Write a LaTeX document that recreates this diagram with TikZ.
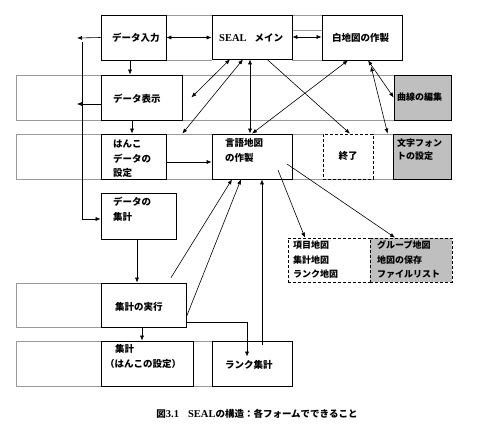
\documentclass[tikz,border=0pt]{standalone}
\usepackage{fontspec}
\newfontfamily\jp{Noto Sans CJK JP}
\newfontfamily\ser{Liberation Serif}
\usetikzlibrary{arrows.meta,calc}
\tikzset{
  box/.style={draw=black,line width=0.7pt,fill=white,inner sep=0pt},
  grbox/.style={box,fill=black!25},
  dbox/.style={box,dash pattern=on 3pt off 2pt},
  band/.style={draw=black!40,line width=0.6pt},
  txt/.style={font=\jp\bfseries\fontsize{9.5}{12}\selectfont,inner sep=0pt,anchor=west},
  stxt/.style={font=\jp\bfseries\fontsize{9}{12}\selectfont,inner sep=0pt,anchor=west},
  conn/.style={line width=0.6pt,-{Latex[length=5pt,width=4pt]}},
  dconn/.style={line width=0.6pt,{Latex[length=5pt,width=4pt]}-{Latex[length=5pt,width=4pt]}}
}
\begin{document}
\begin{tikzpicture}[x=1pt,y=-1pt]
\useasboundingbox[fill=white] (0,0) rectangle (489,430);
% gray bands
\draw[band] (165,15) -- (212,15) (165,60) -- (212,60);
\draw[band] (292,15) -- (322,15) (292,30) -- (322,30) (292,60) -- (322,60);
\draw[band] (16,75) rectangle (394,120);
\draw[band] (16,134) rectangle (393,179);
\draw[band] (16,283) rectangle (101,327);
\draw[band] (16,341) rectangle (212,386);
% boxes
\node[box,minimum width=65,minimum height=45] (din) at (133.5,37.5) {};
\node[box,minimum width=80,minimum height=44] (seal) at (252,37) {};
\node[box,minimum width=80,minimum height=45] (haku) at (362,37.5) {};
\node[box,minimum width=81,minimum height=45] (disp) at (141.5,97.5) {};
\node[grbox,minimum width=57,minimum height=45] (kyoku) at (422.5,97.5) {};
\node[box,minimum width=65,minimum height=45] (hanko) at (133.5,156.5) {};
\node[box,minimum width=80,minimum height=45] (gengo) at (252,156.5) {};
\node[dbox,minimum width=50,minimum height=45] (endb) at (348,156.5) {};
\node[grbox,minimum width=58,minimum height=45] (fontb) at (422,156.5) {};
\node[box,minimum width=75,minimum height=46] (shukei) at (138.5,216) {};
\node[dbox,minimum width=82,minimum height=44] (mapsA) at (329,260) {};
\node[dbox,fill=black!25,minimum width=82,minimum height=44] (mapsB) at (411,260) {};
\node[box,minimum width=85,minimum height=44] (jikko) at (143.5,305) {};
\node[box,minimum width=92,minimum height=45] (hanshu) at (147,363.5) {};
\node[box,minimum width=80,minimum height=45] (rank) at (252,363.5) {};
% texts
\node[txt] (t1) at (112,38) {データ入力};
\node[txt] (t2) at (219,38) {{\ser\bfseries\fontsize{10.5}{12}\selectfont SEAL}\hspace{8pt}メイン};
\node[txt] (t3) at (332,38) {白地図の作製};
\node[txt] (t4) at (113,99) {データ表示};
\node[stxt] (t5) at (397,97) {曲線の編集};
\node[txt] (t6a) at (113,144) {はんこ};
\node[txt] (t6b) at (113,159) {データの};
\node[txt] (t6c) at (113,173) {設定};
\node[txt] (t7a) at (225,143) {言語地図};
\node[txt] (t7b) at (225,158) {の作製};
\node[txt,anchor=center] (t8) at (348,156) {終了};
\node[stxt] (t9a) at (397,143) {文字フォン};
\node[stxt] (t9b) at (397,156) {トの設定};
\node[txt] (t10a) at (113,202) {データの};
\node[txt] (t10b) at (113,217) {集計};
\node[stxt] (t11a) at (293,245) {項目地図};
\node[stxt] (t11b) at (293,260) {集計地図};
\node[stxt] (t11c) at (293,274) {ランク地図};
\node[stxt] (t12a) at (377,245) {グループ地図};
\node[stxt] (t12b) at (377,260) {地図の保存};
\node[stxt] (t12c) at (377,274) {ファイルリスト};
\node[txt] (t13) at (115,307) {集計の実行};
\node[txt] (t14a) at (115,349) {集計};
\node[txt] (t14b) at (105,364) {（はんこの設定）};
\node[txt] (t15) at (225,365) {ランク集計};
\node[txt,anchor=center] (cap) at (257,414) {図{\ser\bfseries\fontsize{10.5}{12}\selectfont 3.1}\hspace{9pt}{\ser\bfseries\fontsize{10.5}{12}\selectfont SEAL}の構造：各フォームでできること};
% free ends
\coordinate (dinL) at (77,38);
\coordinate (dispL) at (77,104);
\coordinate (vtop) at (82,42);
% connectors
\draw[dconn] (din.east) -- (din.east -| seal.west);
\draw[dconn] (seal.east) -- (seal.east -| haku.west);
\draw[conn] (din.west) -- (dinL);
\draw[conn] (vtop) |- ([yshift=-3pt]shukei.west);
\draw[conn] ([yshift=-6.5pt]disp.west) -- (dispL);
\draw[conn] ([xshift=-3.5pt]din.south) -- ([xshift=-3.5pt]din.south |- disp.north);
\draw[conn] ([xshift=-9.5pt]disp.south) -- ([xshift=-9.5pt]disp.south |- hanko.north);
\draw[conn] ([yshift=-5.5pt]hanko.east) -- ([yshift=-5.5pt]hanko.east -| gengo.west);
\draw[dconn] ([xshift=-22pt]seal.south) -- ([xshift=9pt,yshift=0pt]disp.east);
\draw[dconn] ([xshift=-9pt]seal.south) -- ([xshift=16pt]hanko.north east);
\draw[dconn] ([xshift=-2pt]seal.south) -- ([xshift=-2pt]gengo.north);
\draw[dconn] ([xshift=-14pt]haku.south) -- (gengo.north);
\draw[conn] ([xshift=15pt]seal.south) -- ([xshift=2pt]endb.north);
\draw[dconn] ([xshift=6pt]haku.south) -- (kyoku.west);
\draw[dconn] ([xshift=9pt,yshift=-6pt]haku.south) -- ([xshift=-5pt]fontb.north west);
\draw[conn] ([xshift=26pt,yshift=-13.5pt]gengo.center) -- ([xshift=-24pt]mapsA.north);
\draw[conn] ([xshift=35pt,yshift=-7.5pt]gengo.center) -- ([xshift=-16pt]mapsB.north);
\draw[conn] ([xshift=27.5pt,yshift=5pt]jikko.north) -- ([xshift=-20pt]gengo.south);
\draw[conn] ([yshift=-12pt]jikko.east) -- ([xshift=-11pt]gengo.south);
\draw[conn] ([xshift=10pt,yshift=-4pt]rank.north) -- ([xshift=10pt]gengo.south);
\draw[conn] ([yshift=-17pt]jikko.east) -| ([xshift=-5pt,yshift=-16pt]rank.north);
\draw[conn] ([xshift=-1.5pt]shukei.south) -- ([xshift=-1.5pt]shukei.south |- jikko.north);
\draw[conn] ([xshift=-1.5pt]jikko.south) -- ([xshift=-1.5pt]jikko.south |- hanshu.north);
\end{tikzpicture}
\end{document}
